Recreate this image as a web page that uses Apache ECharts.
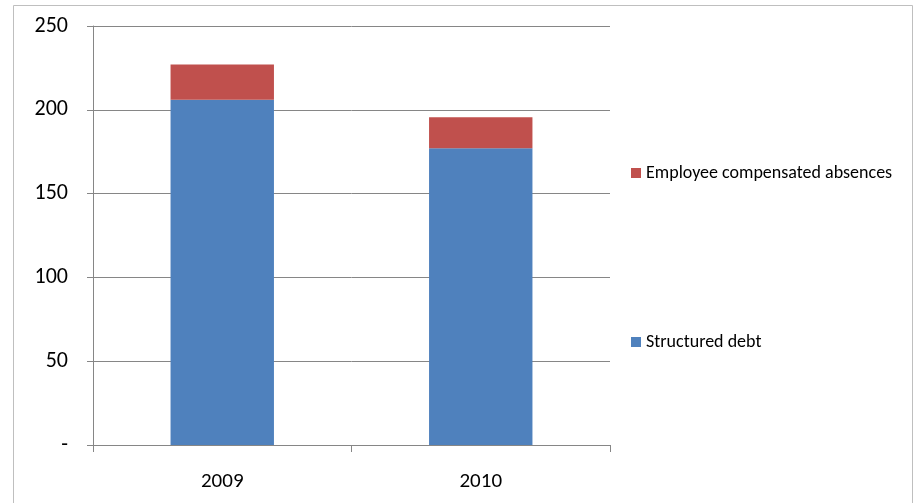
<!DOCTYPE html>
<html>
<head>
<meta charset="utf-8">
<script src="https://cdn.jsdelivr.net/npm/echarts@6/dist/echarts.min.js"></script>
<style>
html,body{margin:0;padding:0;background:#fff;}
#c{width:918px;height:503px;}
</style>
</head>
<body>
<div id="c"></div>
<script>
const categories = ['2009', '2010'];
const structuredDebt = [206, 177];
const employeeAbsences = [21, 18.5];
const yTicks = { min: 0, max: 250, interval: 50 };

const FONT = 'Carlito, "Liberation Sans Narrow", "Liberation Sans", sans-serif';
const chart = echarts.init(document.getElementById('c'));
chart.setOption({
  animation: false,
  backgroundColor: '#fff',
  graphic: [{
    type: 'rect', shape: { x: 13.5, y: 5.5, width: 899, height: 510 },
    style: { fill: 'none', stroke: '#bfbfbf', lineWidth: 1 }, silent: true
  }],
  grid: { left: 93, right: 308, top: 26, bottom: 58, containLabel: false },
  legend: [
    { data: ['Employee compensated absences'], left: 631, top: 164, orient: 'vertical', padding: 0,
      itemWidth: 10, itemHeight: 10, itemGap: 6, icon: 'rect',
      textStyle: { fontFamily: FONT, fontSize: 18, color: '#000', padding: [0, 0, 0, 0] } },
    { data: ['Structured debt'], left: 631, top: 333, orient: 'vertical', padding: 0,
      itemWidth: 10, itemHeight: 10, itemGap: 6, icon: 'rect',
      textStyle: { fontFamily: FONT, fontSize: 18, color: '#000' } }
  ],
  xAxis: {
    type: 'category', data: categories,
    axisLine: { show: true, lineStyle: { color: '#868686' } },
    axisTick: { show: true, length: 7, lineStyle: { color: '#868686' } },
    axisLabel: { fontFamily: FONT, fontSize: 21, color: '#000', margin: 26 }
  },
  yAxis: {
    type: 'value', min: yTicks.min, max: yTicks.max, interval: yTicks.interval,
    axisLine: { show: true, lineStyle: { color: '#868686' } },
    axisTick: { show: true, length: 6, lineStyle: { color: '#868686' } },
    splitLine: { show: true, lineStyle: { color: '#868686' } },
    axisLabel: { fontFamily: FONT, fontSize: 22, color: '#000', margin: 25,
      formatter: v => v === 0 ? '-' : String(v) }
  },
  series: [
    { name: 'Structured debt', type: 'bar', stack: 'a', data: structuredDebt,
      barWidth: '40%', itemStyle: { color: '#4F81BD' } },
    { name: 'Employee compensated absences', type: 'bar', stack: 'a', data: employeeAbsences,
      barWidth: '40%', itemStyle: { color: '#C0504D' } }
  ]
});
</script>
</body>
</html>
